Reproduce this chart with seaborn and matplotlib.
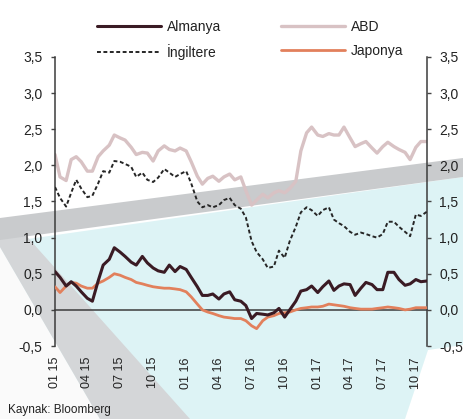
import numpy as np
import pandas as pd
import matplotlib
matplotlib.use("Agg")
import matplotlib.pyplot as plt
import seaborn as sns
from matplotlib.patches import Polygon
from matplotlib.ticker import FuncFormatter, FixedFormatter

# ---------------- data (semi-monthly, Jan 2015 - Nov 2017) ----------------
dates = pd.date_range("2015-01-01", periods=69, freq="SMS")

abd = [2.15, 1.84, 1.79, 2.08, 2.12, 2.05, 1.92, 1.92, 2.12, 2.20,
       2.28, 2.42, 2.38, 2.35, 2.25, 2.15, 2.18, 2.17, 2.06, 2.20,
       2.27, 2.22, 2.20, 2.24, 2.20, 2.05, 1.85, 1.74, 1.82, 1.85,
       1.78, 1.84, 1.88, 1.80, 1.84, 1.65, 1.45, 1.52, 1.60, 1.55,
       1.62, 1.65, 1.62, 1.68, 1.78, 2.20, 2.45, 2.53, 2.42, 2.40,
       2.44, 2.42, 2.42, 2.53, 2.38, 2.26, 2.30, 2.33, 2.24, 2.17,
       2.26, 2.32, 2.26, 2.22, 2.18, 2.08, 2.25, 2.33, 2.33]

ingiltere = [1.70, 1.55, 1.43, 1.62, 1.80, 1.68, 1.56, 1.58, 1.75, 1.92,
             1.90, 2.06, 2.05, 2.02, 1.98, 1.84, 1.90, 1.80, 1.77, 1.83,
             1.95, 1.90, 1.84, 1.88, 1.92, 1.75, 1.50, 1.42, 1.45, 1.42,
             1.45, 1.52, 1.55, 1.45, 1.40, 1.28, 0.95, 0.80, 0.70, 0.58,
             0.60, 0.82, 0.72, 0.95, 1.15, 1.35, 1.42, 1.38, 1.30, 1.38,
             1.42, 1.25, 1.20, 1.16, 1.08, 1.04, 1.07, 1.05, 1.02, 1.00,
             1.05, 1.22, 1.22, 1.15, 1.08, 1.02, 1.32, 1.30, 1.36]

almanya = [0.53, 0.45, 0.33, 0.39, 0.33, 0.25, 0.16, 0.12, 0.40, 0.62,
           0.70, 0.86, 0.80, 0.74, 0.66, 0.62, 0.74, 0.65, 0.58, 0.54,
           0.52, 0.62, 0.53, 0.60, 0.56, 0.45, 0.32, 0.20, 0.20, 0.22,
           0.15, 0.22, 0.25, 0.14, 0.12, 0.06, -0.12, -0.05, -0.06, -0.07,
           -0.04, 0.02, -0.10, 0.00, 0.12, 0.26, 0.28, 0.33, 0.24, 0.32,
           0.40, 0.27, 0.33, 0.36, 0.35, 0.20, 0.30, 0.38, 0.35, 0.28,
           0.28, 0.52, 0.52, 0.42, 0.34, 0.36, 0.42, 0.39, 0.40]

japonya = [0.32, 0.24, 0.33, 0.38, 0.37, 0.33, 0.30, 0.30, 0.37, 0.40,
           0.45, 0.50, 0.48, 0.45, 0.42, 0.38, 0.36, 0.34, 0.32, 0.31,
           0.30, 0.30, 0.29, 0.28, 0.25, 0.18, 0.08, 0.00, -0.03, -0.05,
           -0.08, -0.10, -0.11, -0.12, -0.12, -0.15, -0.22, -0.26, -0.15, -0.10,
           -0.08, -0.05, -0.04, -0.03, 0.00, 0.02, 0.03, 0.04, 0.04, 0.05,
           0.08, 0.07, 0.06, 0.05, 0.03, 0.02, 0.01, 0.01, 0.01, 0.02,
           0.03, 0.04, 0.03, 0.02, 0.00, 0.01, 0.03, 0.03, 0.03]

series_names = ["Almanya", "İngiltere", "ABD", "Japonya"]
y_ticks = [-0.5, 0.0, 0.5, 1.0, 1.5, 2.0, 2.5, 3.0, 3.5]
x_tick_dates = pd.date_range("2015-01-01", "2017-10-01", freq="QS")
x_tick_labels = ["01 15", "04 15", "07 15", "10 15", "01 16", "04 16",
                 "07 16", "10 16", "01 17", "04 17", "07 17", "10 17"]
source_text = "Kaynak: Bloomberg"

# ---------------- style ----------------
sns.set_style("white")
plt.rcParams["font.family"] = ["Liberation Sans", "DejaVu Sans"]

W, H = 463, 419
fig = plt.figure(figsize=(W / 100, H / 100), dpi=100)


def P(pts):
    return [(x / W, 1 - y / H) for x, y in pts]


# decorative page background (scanned brochure look)
bg = [
    ([(0, 243), (463, 177), (463, 345), (428, 350), (405, 419), (0, 419)], "#ddf3f5"),
    ([(0, 247), (100, 419), (0, 419)], "#fafafa"),
    ([(0, 222), (14, 222), (190, 419), (100, 419), (0, 247)], "#d4d6d8"),
    ([(0, 218), (463, 158), (463, 177), (0, 240)], "#c9cbcd"),
]
for pts, col in bg:
    fig.patches.append(Polygon(P(pts), closed=True, transform=fig.transFigure,
                               facecolor=col, edgecolor="none", zorder=-5))

ax = fig.add_axes([55 / W, 1 - 346 / H, (427 - 55) / W, (346 - 57) / H])
ax.set_facecolor("none")

sns.lineplot(x=dates, y=abd, ax=ax, color="#d8c2c4", lw=2.4, label="ABD",
             legend=False, zorder=2)
sns.lineplot(x=dates, y=ingiltere, ax=ax, color="#262626", lw=1.4,
             linestyle=(0, (2.0, 1.3)), label="İngiltere", legend=False, zorder=3)
sns.lineplot(x=dates, y=japonya, ax=ax, color="#e2805c", lw=2.0, label="Japonya",
             legend=False, zorder=4)
sns.lineplot(x=dates, y=almanya, ax=ax, color="#3a1b24", lw=2.2, label="Almanya",
             legend=False, zorder=5)

ax.set_ylim(-0.5, 3.5)
ax.set_xlim(dates[0], pd.Timestamp("2017-11-01"))
ax.set_xlabel("")
ax.set_ylabel("")

ax.set_yticks(y_ticks)
ax.yaxis.set_major_formatter(FuncFormatter(lambda v, p: f"{v:.1f}".replace(".", ",")))
ax.tick_params(axis="y", left=True, right=True, labelleft=True, labelright=True,
               direction="out", length=3, width=1, pad=6, labelsize=10,
               colors="#444", labelcolor="#222")

ax.set_xticks(x_tick_dates)
ax.xaxis.set_major_formatter(FixedFormatter(x_tick_labels))
ax.tick_params(axis="x", direction="inout", length=4, width=1, pad=32,
               labelrotation=90, labelsize=9, colors="#444", labelcolor="#222")

ax.spines["top"].set_visible(False)
ax.spines["bottom"].set_position(("data", 0))
for s in ["left", "right", "bottom"]:
    ax.spines[s].set_color("#3c3c3c")
    ax.spines[s].set_linewidth(1.1)
ax.grid(False)

# legend
handles, labels = ax.get_legend_handles_labels()
hd = dict(zip(labels, handles))
fig.legend([hd[n] for n in series_names], series_names, loc="upper left",
           bbox_to_anchor=(90 / W, 1 - 13 / H), ncol=2, frameon=False,
           fontsize=10, handlelength=4.6, handletextpad=0.45,
           columnspacing=4.3, labelspacing=0.75, borderpad=0,
           labelcolor="#222")

fig.text(8 / W, 1 - 410 / H, source_text, fontsize=8.5, va="center", color="#222")

fig.savefig("out.png", dpi=100)
